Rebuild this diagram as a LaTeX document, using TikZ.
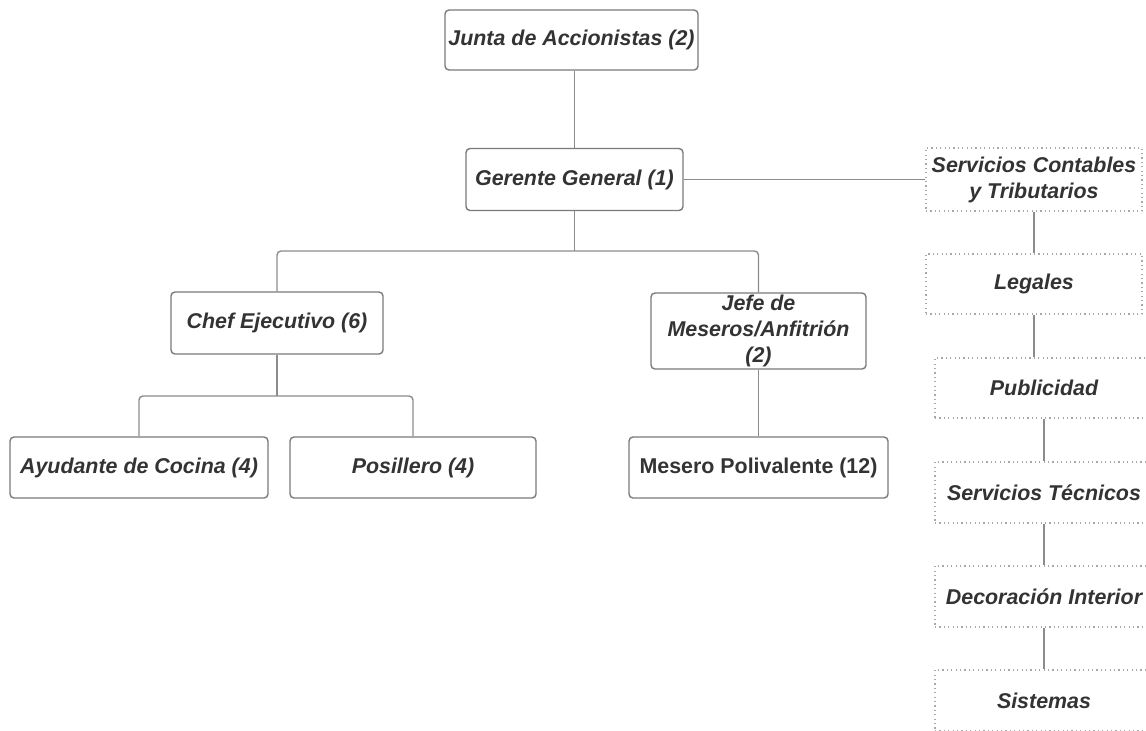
\documentclass[tikz,border=0pt]{standalone}
\usepackage{fontspec}
\setmainfont{Liberation Sans}
\definecolor{txtgray}{HTML}{333333}
\definecolor{boxgray}{HTML}{7A7A7A}
\definecolor{lingray}{HTML}{8C8C8C}
\definecolor{dotgray}{HTML}{A8A8A8}
\tikzset{
  puesto/.style={draw=boxgray, line width=0.7pt, rounded corners=2pt, align=center, text=txtgray,
    font=\fontsize{10.7}{13}\selectfont\bfseries\itshape, inner sep=0pt},
  externo/.style={puesto, draw=dotgray, rounded corners=0pt, dash pattern=on 0.6pt off 1.6pt},
  enlace/.style={draw=lingray, line width=0.7pt, rounded corners=2pt}
}
\begin{document}
\begin{tikzpicture}[x=0.5pt, y=-0.5pt, line join=round]
 \useasboundingbox (0,0) rectangle (1146,730);
 \clip (0,0) rectangle (1146,730);
 % nivel directivo
 \node[puesto, minimum width=126.5pt, minimum height=30pt] (junta) at (571.5,40) {Junta de Accionistas (2)};
 \node[puesto, minimum width=108.5pt, minimum height=31pt] (gerente) at (574.5,179.5) {Gerente General (1)};
 % jefaturas
 \node[puesto, minimum width=106pt, minimum height=31pt] (chef) at (277,323) {Chef Ejecutivo (6)};
 \node[puesto, minimum width=107.5pt, minimum height=38pt] (jefe) at (758.5,331) {Jefe de\\Meseros/Anfitri\'on\\(2)};
 % personal operativo
 \node[puesto, minimum width=129pt, minimum height=30.5pt] (ayudante) at (139,467.5) {Ayudante de Cocina (4)};
 \node[puesto, minimum width=123pt, minimum height=30.5pt] (posillero) at (413,467.5) {Posillero (4)};
 \node[puesto, minimum width=129.5pt, minimum height=30.5pt, font=\fontsize{10.7}{13}\selectfont\bfseries] (mesero) at (758.5,467.5) {Mesero Polivalente (12)};
 % servicios externos
 \node[externo, minimum width=108pt, minimum height=31.5pt] (contables) at (1034,179.5) {Servicios Contables\\y Tributarios};
 \node[externo, minimum width=108pt, minimum height=30pt] (legales) at (1034,284) {Legales};
 \node[externo, minimum width=109pt, minimum height=30pt] (publicidad) at (1044,388) {Publicidad};
 \node[externo, minimum width=109pt, minimum height=30.5pt] (tecnicos) at (1044,492.5) {Servicios T\'ecnicos};
 \node[externo, minimum width=109pt, minimum height=30.5pt] (decoracion) at (1044,596.5) {Decoraci\'on Interior};
 \node[externo, minimum width=109pt, minimum height=30.5pt] (sistemas) at (1044,700.5) {Sistemas};
 \coordinate (nudoA) at (574.5,251);
 \coordinate (nudoB) at (277,396);
 % conectores
 \draw[enlace] (junta.south -| gerente.north) -- (gerente.north);
 \draw[enlace] (gerente.east) -- (contables.west);
 \draw[enlace] (gerente.south) -- (nudoA);
 \draw[enlace] (chef.north) |- (nudoA) -| (jefe.north);
 \draw[enlace] (chef.south) -- (nudoB);
 \draw[enlace] (ayudante.north) |- (nudoB) -| (posillero.north);
 \draw[enlace] (jefe.south) -- (mesero.north);
 \draw[enlace] (contables.south) -- (legales.north);
 \draw[enlace] (legales.south) -- (legales.south |- publicidad.north);
 \draw[enlace] (publicidad.south) -- (tecnicos.north);
 \draw[enlace] (tecnicos.south) -- (decoracion.north);
 \draw[enlace] (decoracion.south) -- (sistemas.north);
\end{tikzpicture}
\end{document}
